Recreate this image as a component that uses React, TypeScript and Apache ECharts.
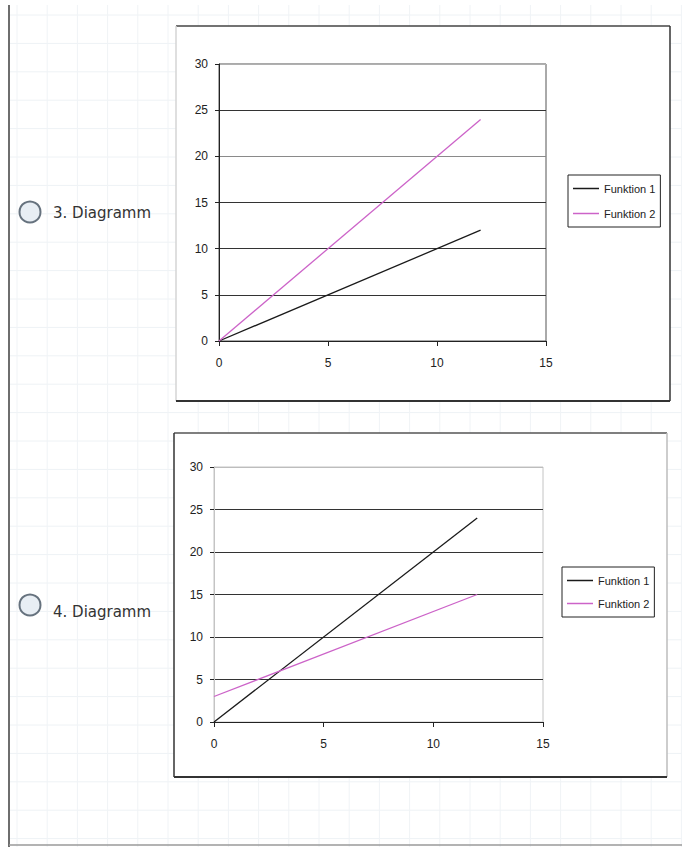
import React, { useEffect, useRef } from "react";
import * as echarts from "echarts";

const seriesNames = ["Funktion 1", "Funktion 2"];
const xTicks = [0, 5, 10, 15];
const yTicks = [0, 5, 10, 15, 20, 25, 30];
const labels = ["3. Diagramm", "4. Diagramm"];

// Diagramm 3
const d3Funktion1: number[][] = [[0, 0], [12, 12]];
const d3Funktion2: number[][] = [[0, 0], [12, 24]];
// Diagramm 4
const d4Funktion1: number[][] = [[0, 0], [12, 24]];
const d4Funktion2: number[][] = [[0, 3], [12, 15]];

const COL1 = "#1a1a1a";
const COL2 = "#cc63c8";
const FONT = "'Liberation Sans', Arial, sans-serif";

export default function App() {
  const ref = useRef<HTMLDivElement>(null);
  useEffect(() => {
    if (!ref.current) return;
    const chart = echarts.init(ref.current, undefined, { renderer: "svg" });
    const W = 682, H = 847;

    const bg: any[] = [];
    for (let y = 15; y < H; y += 28.4) {
      bg.push({ type: "line", z: -20, shape: { x1: 10, y1: y, x2: W, y2: y }, style: { stroke: "#eef2f5", lineWidth: 1 } });
    }
    for (let x = 17; x < W; x += 30.2) {
      bg.push({ type: "line", z: -20, shape: { x1: x, y1: 5, x2: x, y2: H }, style: { stroke: "#f0f3f6", lineWidth: 1 } });
    }

    const box = (x: number, y: number, w: number, h: number, c: { t: string; l: string; r: string; b: string }) => [
      { type: "rect", z: -10, shape: { x, y, width: w, height: h }, style: { fill: "#ffffff" } },
      { type: "line", z: -9, shape: { x1: x, y1: y, x2: x + w, y2: y }, style: { stroke: c.t, lineWidth: 1.5 } },
      { type: "line", z: -9, shape: { x1: x, y1: y, x2: x, y2: y + h }, style: { stroke: c.l, lineWidth: 1.5 } },
      { type: "line", z: -9, shape: { x1: x + w, y1: y, x2: x + w, y2: y + h }, style: { stroke: c.r, lineWidth: 1.5 } },
      { type: "line", z: -9, shape: { x1: x, y1: y + h, x2: x + w, y2: y + h }, style: { stroke: c.b, lineWidth: 2 } },
    ];

    const radio = (cx: number, cy: number, tx: number, ty: number, text: string) => [
      { type: "circle", shape: { cx, cy, r: 10.5 }, style: { fill: "#e8eef4", stroke: "#66727e", lineWidth: 2 } },
      {
        type: "text", x: tx, y: ty,
        style: { text, fill: "#333", font: "15px 'DejaVu Sans', Verdana, sans-serif", textVerticalAlign: "middle", verticalAlign: "middle" },
      },
    ];

    const xAxisBase = (gridIndex: number) => ({
      type: "value", gridIndex, min: xTicks[0], max: xTicks[xTicks.length - 1], interval: 5,
      axisLine: { show: true, lineStyle: { color: "#222", width: 1 } },
      axisTick: { show: true, length: 5, lineStyle: { color: "#222" } },
      axisLabel: { fontSize: 12, color: "#222", fontFamily: FONT, margin: 16 },
      splitLine: { show: false },
    });
    const yAxisBase = (gridIndex: number, axisColor: string, splitColors: string[]) => ({
      type: "value", gridIndex, min: yTicks[0], max: yTicks[yTicks.length - 1], interval: 5,
      axisLine: { show: true, lineStyle: { color: axisColor, width: 1 } },
      axisTick: { show: true, length: 4, lineStyle: { color: "#222" } },
      axisLabel: { fontSize: 12, color: "#222", fontFamily: FONT, margin: 11 },
      splitLine: { show: true, lineStyle: { color: splitColors, width: 1 } },
    });

    const legendBase = {
      orient: "vertical", icon: "rect", itemWidth: 26, itemHeight: 1.5,
      borderColor: "#222", borderWidth: 1, backgroundColor: "#fff",
      textStyle: { fontSize: 11, color: "#222", fontFamily: FONT },
      data: seriesNames, selectedMode: false,
    };

    chart.setOption({
      animation: false,
      backgroundColor: "#ffffff",
      grid: [
        { left: 219, top: 64, width: 327, height: 277, show: true, borderColor: "#555", borderWidth: 1, backgroundColor: "transparent" },
        { left: 214, top: 467, width: 329, height: 255, show: true, borderColor: "#c4c4c4", borderWidth: 1, backgroundColor: "transparent" },
      ],
      xAxis: [xAxisBase(0), xAxisBase(1)],
      yAxis: [
        yAxisBase(0, "#222", ["#333", "#333", "#333", "#333", "#8a8a8a", "#333", "#b0b0b0"]),
        yAxisBase(1, "#c4c4c4", ["#333", "#333", "#333", "#333", "#333", "#333", "#bdbdbd"]),
      ],
      legend: [
        { ...legendBase, left: 568, top: 175, padding: [8, 5, 8, 5], itemGap: 14 },
        { ...legendBase, left: 562, top: 567, padding: [8, 5, 8, 5], itemGap: 12 },
      ],
      series: [
        { name: seriesNames[0], type: "line", xAxisIndex: 0, yAxisIndex: 0, data: d3Funktion1, symbol: "none", lineStyle: { color: COL1, width: 1.3 }, itemStyle: { color: COL1 } },
        { name: seriesNames[1], type: "line", xAxisIndex: 0, yAxisIndex: 0, data: d3Funktion2, symbol: "none", lineStyle: { color: COL2, width: 1.3 }, itemStyle: { color: COL2 } },
        { name: seriesNames[0], type: "line", xAxisIndex: 1, yAxisIndex: 1, data: d4Funktion1, symbol: "none", lineStyle: { color: COL1, width: 1.3 }, itemStyle: { color: COL1 } },
        { name: seriesNames[1], type: "line", xAxisIndex: 1, yAxisIndex: 1, data: d4Funktion2, symbol: "none", lineStyle: { color: COL2, width: 1.3 }, itemStyle: { color: COL2 } },
      ],
      graphic: [
        ...bg,
        { type: "line", z: -5, shape: { x1: 9, y1: 5, x2: 9, y2: H }, style: { stroke: "#6e6e6e", lineWidth: 2 } },
        { type: "line", z: -5, shape: { x1: 9, y1: 845, x2: W, y2: 845 }, style: { stroke: "#9a9a9a", lineWidth: 1.5 } },
        ...box(176, 26, 494, 375, { t: "#444", l: "#d4d4d4", r: "#333", b: "#333" }),
        ...box(174, 433, 493, 344, { t: "#555", l: "#333", r: "#bdbdbd", b: "#333" }),
        ...radio(30, 212, 53, 213, labels[0]),
        ...radio(30, 605, 53, 612, labels[1]),
      ],
    });
    return () => chart.dispose();
  }, []);
  return <div ref={ref} style={{ position: "absolute", left: 0, top: 0, width: 682, height: 847 }} />;
}
